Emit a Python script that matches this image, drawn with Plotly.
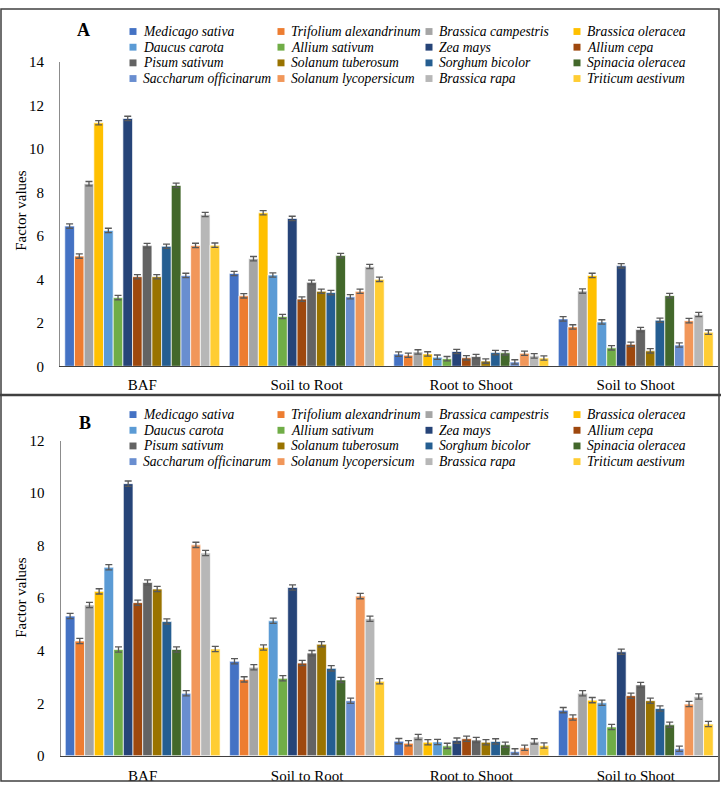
import plotly.graph_objects as go

W, H = 721, 790
FONT = "Liberation Serif, Times New Roman, DejaVu Serif, serif"

CATEGORIES = ["BAF", "Soil to Root", "Root to Shoot", "Soil to Shoot"]

SPECIES = [
    "Medicago sativa", "Trifolium alexandrinum", "Brassica campestris", "Brassica oleracea",
    "Daucus carota", "Allium sativum", "Zea mays", "Allium cepa",
    "Pisum sativum", "Solanum tuberosum", "Sorghum bicolor", "Spinacia oleracea",
    "Saccharum officinarum", "Solanum lycopersicum", "Brassica rapa", "Triticum aestivum",
]

COLORS = [
    "#4472C4", "#ED7D31", "#A5A5A5", "#FFC000",
    "#5B9BD5", "#70AD47", "#264478", "#9E480E",
    "#636363", "#997300", "#255E91", "#43682B",
    "#698ED0", "#F1975A", "#B7B7B7", "#FFCD33",
]

# Panel A values, one list per category (species order as above)
A_BAF = [6.45, 5.07, 8.40, 11.20, 6.25, 3.16, 11.40, 4.12, 5.55, 4.12, 5.52, 8.32, 4.18, 5.56, 6.98, 5.57]
A_SOIL_ROOT = [4.27, 3.24, 4.95, 7.06, 4.20, 2.29, 6.80, 3.09, 3.86, 3.45, 3.39, 5.09, 3.20, 3.45, 4.59, 4.00]
A_ROOT_SHOOT = [0.56, 0.51, 0.66, 0.57, 0.42, 0.35, 0.68, 0.39, 0.45, 0.24, 0.63, 0.62, 0.20, 0.60, 0.48, 0.38]
A_SOIL_SHOOT = [2.18, 1.81, 3.46, 4.18, 2.04, 0.85, 4.62, 1.01, 1.69, 0.71, 2.12, 3.25, 0.98, 2.10, 2.38, 1.57]
A_ERR = 0.1

# Panel B values
B_BAF = [5.32, 4.37, 5.74, 6.26, 7.18, 4.05, 10.36, 5.83, 6.60, 6.35, 5.11, 4.05, 2.38, 8.03, 7.72, 4.07]
B_SOIL_ROOT = [3.60, 2.91, 3.37, 4.12, 5.14, 2.95, 6.41, 3.53, 3.91, 4.25, 3.33, 2.89, 2.10, 6.08, 5.22, 2.84]
B_ROOT_SHOOT = [0.56, 0.48, 0.72, 0.52, 0.53, 0.38, 0.58, 0.65, 0.60, 0.52, 0.55, 0.42, 0.17, 0.31, 0.55, 0.39]
B_SOIL_SHOOT = [1.74, 1.46, 2.38, 2.12, 2.02, 1.10, 3.96, 2.29, 2.70, 2.10, 1.80, 1.18, 0.27, 1.97, 2.26, 1.21]
B_ERR = 0.1


def px(x):
    return x / W


def py(y):
    return 1 - y / H


fig = go.Figure()

panels = [
    ("x", "y", [A_BAF, A_SOIL_ROOT, A_ROOT_SHOOT, A_SOIL_SHOOT], A_ERR),
    ("x2", "y2", [B_BAF, B_SOIL_ROOT, B_ROOT_SHOOT, B_SOIL_SHOOT], B_ERR),
]

for xa, ya, cols, err in panels:
    for i, name in enumerate(SPECIES):
        fig.add_trace(go.Bar(
            x=CATEGORIES,
            y=[c[i] for c in cols],
            name=name,
            xaxis=xa, yaxis=ya,
            marker=dict(color=COLORS[i], line=dict(color="white", width=0.7)),
            error_y=dict(type="constant", value=err, color="#595959",
                         thickness=1.3, width=3.5),
            showlegend=False,
        ))

axis_common = dict(showgrid=False, zeroline=False, showline=True, ticks="",
                   tickfont=dict(family=FONT, size=15, color="black"))

fig.update_layout(
    width=W, height=H,
    margin=dict(l=0, r=0, t=0, b=0),
    paper_bgcolor="white", plot_bgcolor="white",
    barmode="group", bargap=0.058, bargroupgap=0,
    xaxis=dict(domain=[px(60), px(718)], anchor="y", linecolor="#404040", linewidth=1,
               ticklabelstandoff=5, **axis_common),
    yaxis=dict(domain=[py(365.7), py(55)], anchor="x", range=[0, 14], dtick=2,
               linecolor="#8c8c8c", linewidth=1, ticklabelstandoff=12, **axis_common),
    xaxis2=dict(domain=[px(60.5), px(718)], anchor="y2", linecolor="#404040", linewidth=1,
                ticklabelstandoff=6, **axis_common),
    yaxis2=dict(domain=[py(763.3), py(441.5)], anchor="x2", range=[0, 12], dtick=2,
                linecolor="#8c8c8c", linewidth=1, ticklabelstandoff=12, **axis_common),
)

# panel frames
shapes = [
    dict(type="rect", xref="paper", yref="paper", x0=px(1), x1=px(719), y0=py(395), y1=py(1),
         line=dict(color="#404040", width=1.5)),
    dict(type="rect", xref="paper", yref="paper", x0=px(1), x1=px(719), y0=py(789), y1=py(395),
         line=dict(color="#404040", width=1.5)),
    dict(type="line", xref="paper", yref="paper", x0=px(0), x1=px(721), y0=py(395), y1=py(395),
         line=dict(color="#404040", width=2.5)),
]

annotations = []

# panel letters and y titles
for letter, lx, ly, ty in [("A", 83, 22, 207), ("B", 85, 424, 602)]:
    annotations.append(dict(text="<b>%s</b>" % letter, x=px(lx), y=py(ly), xref="paper", yref="paper",
                            xanchor="center", yanchor="middle", showarrow=False,
                            font=dict(family=FONT, size=18, color="black")))
    annotations.append(dict(text="Factor values", x=px(21), y=py(ty), xref="paper", yref="paper",
                            xanchor="center", yanchor="middle", textangle=-90, showarrow=False,
                            font=dict(family=FONT, size=15, color="black")))

# legends (4 x 4 grid, row-major)
col_x = [133, 281, 429, 577]
for rows_y in ([24, 40, 56, 72], [415, 431, 447, 463]):
    for i, name in enumerate(SPECIES):
        cx = col_x[i % 4]
        cy = rows_y[i // 4]
        shapes.append(dict(type="rect", xref="paper", yref="paper",
                           x0=px(cx - 3.5), x1=px(cx + 3.5), y0=py(cy + 3.5), y1=py(cy - 3.5),
                           fillcolor=COLORS[i], line=dict(width=0)))
        annotations.append(dict(text="<i>%s</i>" % name, x=px(cx + 8), y=py(cy),
                                xref="paper", yref="paper", xanchor="left", yanchor="middle",
                                showarrow=False, font=dict(family=FONT, size=13.6, color="black")))

fig.update_layout(shapes=shapes, annotations=annotations)

fig.write_html("out.html", config={"displayModeBar": False},
               post_script="document.body.style.margin='0';")
